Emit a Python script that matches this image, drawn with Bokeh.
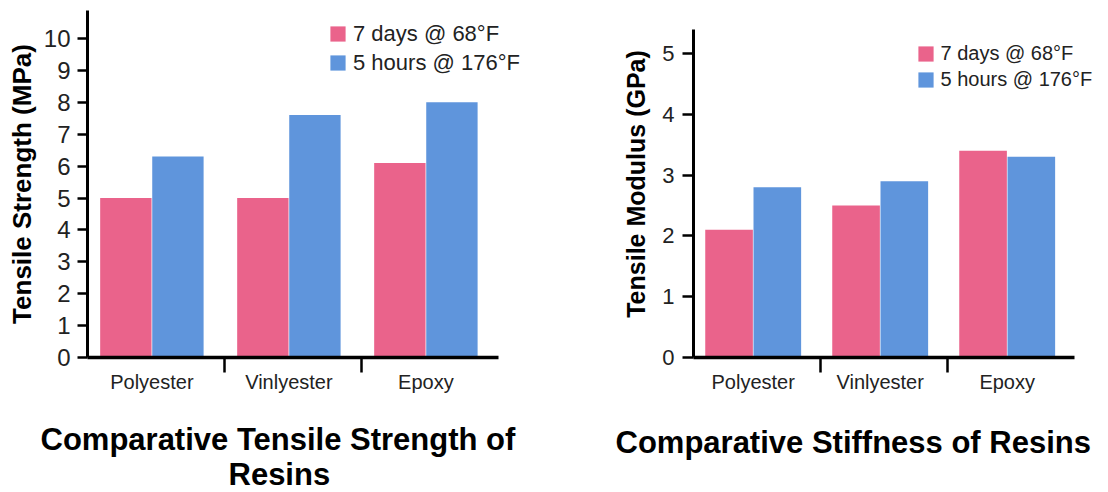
from bokeh.plotting import figure
from bokeh.layouts import row
from bokeh.models import (Range1d, FixedTicker, Legend, LegendItem, Title,
                          ColumnDataSource)
from bokeh.embed import file_html
from bokeh.resources import INLINE

# ---- data ----
categories = ["Polyester", "Vinlyester", "Epoxy"]
series_names = ["7 days @ 68°F", "5 hours @ 176°F"]
strength_7d = [5.0, 5.0, 6.1]
strength_5h = [6.3, 7.6, 8.0]
modulus_7d = [2.1, 2.5, 3.4]
modulus_5h = [2.8, 2.9, 3.3]
strength_ticks = [0, 1, 2, 3, 4, 5, 6, 7, 8, 9, 10]
modulus_ticks = [0, 1, 2, 3, 4, 5]
title_left = ["Comparative Tensile Strength of", "Resins"]
title_right = ["Comparative Stiffness of Resins"]

PINK = "#EA638B"
BLUE = "#5F95DC"
FONT = "Liberation Sans"


def make_chart(width, borders, x_end, y_range, y_bounds, yticks, vals_a, vals_b,
               ylabel, tick_font, ylab_font, ylab_standoff, ytick_out,
               ytick_standoff, legend_font, legend_xy, title_specs):
    bl, br, bt, bb = borders
    n = len(categories)
    p = figure(width=width, height=492, output_backend="svg",
               toolbar_location=None, title=None,
               x_range=Range1d(0, x_end), y_range=Range1d(*y_range),
               min_border_left=bl, min_border_right=br,
               min_border_top=bt, min_border_bottom=bb)
    p.outline_line_color = None
    p.grid.visible = False
    p.background_fill_color = "white"
    p.border_fill_color = "white"

    idx = list(range(n))
    src = ColumnDataSource(dict(
        xa=[i + 0.28 for i in idx], xb=[i + 0.66 for i in idx],
        a=vals_a, b=vals_b))
    ra = p.vbar(x="xa", top="a", width=0.375, source=src,
                fill_color=PINK, line_color=None)
    rb = p.vbar(x="xb", top="b", width=0.375, source=src,
                fill_color=BLUE, line_color=None)

    # x axis: category names under the bars, separator ticks between groups
    xa = p.xaxis[0]
    xa.bounds = (0, n)
    xa.ticker = FixedTicker(ticks=[i + 0.47 for i in idx],
                            minor_ticks=[i for i in idx[1:]])
    xa.major_label_overrides = {i + 0.47: c for i, c in zip(idx, categories)}
    xa.axis_line_width = 3.5
    xa.axis_line_color = "black"
    xa.major_tick_out = 0
    xa.major_tick_in = 0
    xa.minor_tick_out = 15
    xa.minor_tick_in = 0
    xa.minor_tick_line_width = 2.5
    xa.minor_tick_line_color = "black"
    xa.major_label_standoff = -2
    xa.major_label_text_font = FONT
    xa.major_label_text_font_size = "20px"
    xa.major_label_text_color = "#222222"

    ya = p.yaxis[0]
    if y_bounds is not None:
        ya.bounds = y_bounds
    ya.ticker = FixedTicker(ticks=yticks, minor_ticks=[])
    ya.axis_line_width = 3
    ya.axis_line_color = "black"
    ya.major_tick_out = ytick_out
    ya.major_tick_in = 0
    ya.major_tick_line_width = 2.5
    ya.minor_tick_out = 0
    ya.minor_tick_in = 0
    ya.major_label_standoff = ytick_standoff
    ya.major_label_text_font = FONT
    ya.major_label_text_font_size = tick_font
    ya.major_label_text_color = "#222222"
    ya.axis_label = ylabel
    ya.axis_label_text_font = FONT
    ya.axis_label_text_font_style = "bold"
    ya.axis_label_text_font_size = ylab_font
    ya.axis_label_text_color = "black"
    ya.axis_label_standoff = ylab_standoff

    legend = Legend(items=[LegendItem(label=series_names[0], renderers=[ra]),
                           LegendItem(label=series_names[1], renderers=[rb])],
                    location=legend_xy, orientation="vertical",
                    glyph_width=19, glyph_height=19, label_height=19,
                    label_standoff=6, spacing=3, padding=0,
                    margin=0, border_line_alpha=0, background_fill_alpha=0,
                    label_text_font=FONT, label_text_font_size=legend_font,
                    label_text_color="#222222")
    p.add_layout(legend)

    for text, offset, standoff in title_specs:
        p.add_layout(Title(text=text, align="left", offset=offset,
                           standoff=standoff, vertical_align="top",
                           text_font=FONT, text_font_style="bold",
                           text_font_size="31px", text_color="black"),
                     "below")
    return p


# left: frame x 87..530, y 10..357
p1 = make_chart(560, (87, 30, 10, 135), 3 * 443 / 411, (0, 347 / 31.9),
                None, strength_ticks, strength_7d, strength_5h,
                "Tensile Strength (MPa)", "24px", "26px", 4, 10, 7,
                "22px", (241, 281.4),
                [(title_left[0], -47, 52), (title_left[1], 141, -55)])
# right: frame x 693..1100, y 10..357
p2 = make_chart(548, (133, 8, 10, 135), 3 * 407 / 381,
                (0, 347 / 60.8), (0, 5.40), modulus_ticks,
                modulus_7d, modulus_5h, "Tensile Modulus (GPa)",
                "22px", "25px", 9, 11, 8,
                "20px", (222.5, 266),
                [(title_right[0], -78, 58)])

layout = row(p1, p2)
open("out.html", "w").write(file_html(layout, INLINE))
